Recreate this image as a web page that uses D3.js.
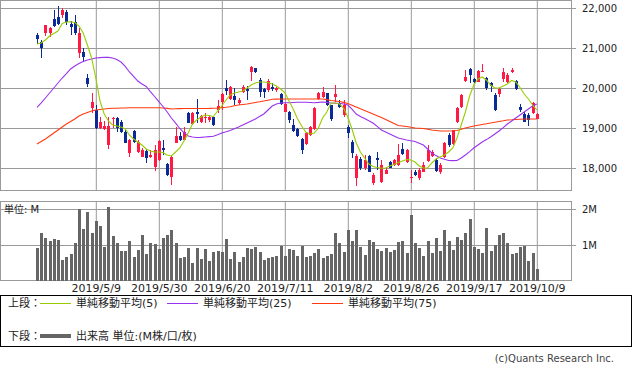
<!DOCTYPE html>
<html><head><meta charset="utf-8">
<script src="https://cdn.jsdelivr.net/npm/d3@7"></script>
<style>
body{margin:0;background:#fff;}
svg{display:block;font-family:"DejaVu Sans","Noto Sans CJK JP",sans-serif;}
</style></head><body><svg id="c" width="633" height="371"></svg>
<script>
const dates = [
"2019/4/11","2019/4/12","2019/4/15","2019/4/16","2019/4/17","2019/4/18","2019/4/19","2019/4/22","2019/4/23","2019/4/24","2019/4/25","2019/4/26",
"2019/5/7","2019/5/8","2019/5/9","2019/5/10","2019/5/13","2019/5/14","2019/5/15","2019/5/16","2019/5/17","2019/5/20","2019/5/21","2019/5/22","2019/5/23","2019/5/24","2019/5/27","2019/5/28","2019/5/29","2019/5/30","2019/5/31",
"2019/6/3","2019/6/4","2019/6/5","2019/6/6","2019/6/7","2019/6/10","2019/6/11","2019/6/12","2019/6/13","2019/6/14","2019/6/17","2019/6/18","2019/6/19","2019/6/20","2019/6/21","2019/6/24","2019/6/25","2019/6/26","2019/6/27","2019/6/28",
"2019/7/1","2019/7/2","2019/7/3","2019/7/4","2019/7/5","2019/7/8","2019/7/9","2019/7/10","2019/7/11","2019/7/12","2019/7/16","2019/7/17","2019/7/18","2019/7/19","2019/7/22","2019/7/23","2019/7/24","2019/7/25","2019/7/26","2019/7/29","2019/7/30","2019/7/31",
"2019/8/1","2019/8/2","2019/8/5","2019/8/6","2019/8/7","2019/8/8","2019/8/9","2019/8/13","2019/8/14","2019/8/15","2019/8/16","2019/8/19","2019/8/20","2019/8/21","2019/8/22","2019/8/23","2019/8/26","2019/8/27","2019/8/28","2019/8/29","2019/8/30",
"2019/9/2","2019/9/3","2019/9/4","2019/9/5","2019/9/6","2019/9/9","2019/9/10","2019/9/11","2019/9/12","2019/9/13","2019/9/17","2019/9/18","2019/9/19","2019/9/20","2019/9/24","2019/9/25","2019/9/26","2019/9/27","2019/9/30",
"2019/10/1","2019/10/2","2019/10/3","2019/10/4","2019/10/7","2019/10/8","2019/10/9"];

const open = [21325,21158,21383,21367,21725,21783,21825,21908,21592,21658,
20883,20908,20258,19492,19450,18992,18983,18575,19217,19258,
19158,18892,18383,18933,18408,18283,18433,18283,18033,18200,
18508,18100,17783,18617,18800,18700,19383,19100,19392,19158,
19242,19200,19267,19450,19658,20000,19725,19808,19617,19908,
19967,20408,20492,20200,19967,19950,20017,19950,19842,19408,
19408,19075,18967,18725,18592,18825,18975,19717,19783,19867,
19567,19775,19617,19325,19033,18658,17758,18225,17992,18308,
17617,18242,17658,17842,18158,18075,18075,18475,18158,17742,
17908,17742,17908,18175,18300,18200,17892,18283,18825,18592,
19158,19533,20175,20475,20217,20158,20408,20258,20117,19825,
19842,20225,20158,20408,20175,19533,19342,19325,19367,19225];
const high = [21375,21200,21575,21533,21950,22050,21992,21950,21683,21825,
21500,20992,20350,19883,19575,19283,19175,19267,19283,19283,
19200,18950,18725,18950,18700,18492,18467,18450,18575,18700,
18700,18117,18325,19033,18908,19033,19408,19408,19717,19325,
19367,19325,19283,19700,19867,20200,20050,19992,19742,20075,
20058,20550,20500,20242,19992,20217,20117,20033,19867,19617,
19425,19225,18992,18742,18908,19050,19533,19908,20033,19883,
19575,20075,19700,19700,19075,18700,18342,18283,18325,18325,
17867,18408,18200,18033,18175,18225,18592,18617,18475,17950,
17950,17992,18158,18575,18450,18242,18117,18642,18867,18950,
19533,19842,20450,20508,20242,20450,20592,20283,20142,19867,
20008,20492,20367,20508,20200,19592,19408,19367,19658,19367];
const low = [21100,20738,21300,21283,21533,21575,21742,21575,21325,21325,
20742,20642,20017,19383,18967,18967,18950,18475,18992,18908,
18875,18617,18267,18617,18383,18267,18133,18242,17933,18183,
18325,17800,17575,18617,18683,18700,19117,19075,19117,19133,
19133,19158,19050,19367,19450,19825,19700,19575,19575,19867,
19700,20175,20375,19783,19742,19908,19933,19908,19575,19392,
19117,18908,18783,18350,18575,18808,18950,19700,19758,19558,
19175,19658,19492,19283,18742,18258,17558,17950,17950,17892,
17575,17950,17617,17842,17992,18058,18058,18325,18117,17617,
17808,17700,17892,18158,18283,17908,17858,18258,18533,18575,
19117,19508,20158,20117,20117,20142,20392,19950,19908,19425,
19783,20158,20117,20367,19950,19408,19158,19058,19342,19217];
const close = [21218,21008,21575,21492,21550,21592,21950,21658,21533,21367,
21367,20767,20092,19658,18992,19158,19058,19042,19258,18992,
18892,18633,18700,18658,18658,18450,18258,18325,18450,18675,
18450,17825,18283,18800,18700,18908,19133,19383,19350,19300,
19283,19283,19075,19550,19850,19925,20033,19700,19700,20033,
19925,20533,20392,19892,19908,20175,19967,20008,19592,19592,
19200,18925,18808,18450,18883,19033,19492,19883,19908,19575,
19233,19850,19517,19575,18867,18367,18308,17992,18200,17908,
17825,18200,18075,17950,18008,18200,18325,18342,18450,17783,
17825,17950,18075,18450,18392,17925,18075,18617,18575,18950,
19508,19825,20283,20325,20142,20425,20425,19992,20058,19450,
19967,20408,20325,20450,19975,19450,19158,19200,19617,19342];

const ma5 = [21100,21125,21200,21300,21363,21425,21613,21650,21658,21638,
21550,21375,21075,20750,20250,19675,19350,19175,19075,19050,
19025,18975,18825,18725,18650,18575,18475,18425,18400,18400,
18388,18325,18300,18400,18500,18675,18875,19100,19200,19275,
19325,19313,19288,19425,19550,19700,19825,19875,19900,19925,
20000,20075,20125,20150,20150,20138,20100,20050,19975,19888,
19675,19475,19238,19050,18900,18850,18875,19000,19250,19400,
19625,19625,19600,19500,19275,18975,18625,18400,18250,18100,
18038,18013,17993,18000,18050,18088,18138,18175,18213,18200,
18150,18050,18000,18000,18125,18225,18275,18325,18400,18500,
18750,19075,19400,19800,20075,20225,20275,20200,20075,20000,
20000,20050,20100,20188,20150,20013,19850,19725,19575,19450];
const ma25 = [19517,19630,19750,19875,20000,20125,20250,20360,20475,20550,
20613,20660,20700,20725,20750,20760,20767,20765,20750,20710,
20650,20540,20400,20290,20175,20100,20038,19910,19788,19660,
19538,19400,19250,19120,18988,18880,18800,18775,18763,18765,
18775,18785,18792,18830,18875,18905,18938,18980,19025,19075,
19125,19175,19225,19290,19350,19450,19550,19600,19625,19630,
19633,19638,19642,19642,19642,19638,19633,19640,19650,19640,
19625,19620,19617,19600,19575,19470,19350,19290,19238,19180,
19125,19040,18950,18900,18850,18800,18750,18725,18700,18680,
18663,18620,18575,18475,18375,18310,18250,18220,18188,18185,
18188,18250,18325,18410,18500,18575,18650,18710,18775,18850,
18925,19010,19100,19175,19250,19325,19400,19475,19550,19600];
const ma75 = [18600,18663,18725,18800,18875,18950,19025,19100,19163,19225,
19300,19350,19388,19425,19450,19463,19475,19488,19492,19495,
19500,19500,19505,19505,19508,19508,19508,19508,19508,19505,
19500,19490,19475,19480,19485,19488,19488,19488,19488,19488,
19488,19490,19495,19500,19510,19520,19533,19555,19575,19588,
19600,19620,19638,19655,19675,19695,19717,19722,19725,19725,
19725,19725,19725,19725,19725,19725,19725,19725,19725,19710,
19688,19675,19663,19640,19613,19570,19525,19480,19438,19395,
19350,19305,19263,19213,19163,19113,19063,19050,19038,19020,
19000,18995,18988,18970,18950,18938,18925,18925,18925,18930,
18938,18970,19000,19025,19050,19070,19088,19105,19125,19145,
19163,19180,19200,19205,19213,19220,19225,19225,19225,19225];

const volume = [0.93,1.34,1.20,1.12,1.18,1.15,0.59,0.68,0.76,1.06,
2.00,1.45,1.93,1.34,1.67,1.54,0.95,2.06,1.26,1.06,
0.84,0.84,1.12,0.68,0.87,1.29,0.76,1.06,1.04,0.90,
1.20,1.29,1.43,1.06,0.65,0.68,0.93,0.51,0.93,0.62,
0.90,0.56,0.81,0.84,0.81,1.18,0.62,0.81,0.54,0.68,
0.93,0.90,0.95,0.81,0.59,0.65,0.68,0.69,0.98,0.70,
0.90,0.87,0.70,0.97,0.68,0.69,0.79,0.89,0.64,0.69,
0.75,1.34,1.06,0.81,1.42,1.12,1.42,0.95,0.72,1.14,
1.08,0.89,0.84,0.92,0.81,0.86,1.08,1.11,0.79,1.83,
1.06,0.92,0.69,1.11,0.79,1.19,0.83,1.42,1.11,0.86,
1.22,1.14,1.34,1.72,0.94,0.89,0.79,1.47,0.83,1.00,
1.29,1.33,1.06,0.75,0.78,0.94,0.97,0.56,0.78,0.33];

const priceTicks = [18000,19000,20000,21000,22000];
const volumeTicks = [1,2];
const dateTicks = ["2019/5/9","2019/5/30","2019/6/20","2019/7/11","2019/8/2","2019/8/26","2019/9/17","2019/10/9"];
const legendTop = [
  {label:"単純移動平均(5)", color:"#99cc00"},
  {label:"単純移動平均(25)", color:"#9933ee"},
  {label:"単純移動平均(75)", color:"#ff3a10"}];

const svg = d3.select("#c");
const GRID = "#9a9a9a";
const x = d3.scaleLinear().domain([0, dates.length-1]).range([37, 536.8]);
const y = d3.scaleLinear().domain([18000, 22000]).range([168, 8]);
const yv = d3.scaleLinear().domain([0, 2]).range([281, 209]);
const tickIdx = dateTicks.map(d => dates.indexOf(d));

// price axis (right) with gridlines
const pa = svg.append("g").attr("transform","translate(576,0)")
  .call(d3.axisRight(y).tickValues(priceTicks).tickSize(-576).tickPadding(6).tickFormat(d3.format(",")));
pa.select(".domain").remove();
pa.selectAll("line").attr("stroke", GRID);
pa.selectAll("text").attr("font-size", 10).attr("fill","#222").attr("font-family","DejaVu Sans");

// volume axis (right)
const va = svg.append("g").attr("transform","translate(576,0)")
  .call(d3.axisRight(yv).tickValues(volumeTicks).tickSize(-576).tickPadding(6).tickFormat(d => d + "M"));
va.select(".domain").remove();
va.selectAll("line").attr("stroke", GRID);
va.selectAll("text").attr("font-size", 10).attr("fill","#222").attr("font-family","DejaVu Sans");

// vertical grid in price panel
const xg = svg.append("g").attr("transform","translate(0,190)")
  .call(d3.axisBottom(x).tickValues(tickIdx).tickSize(-190).tickFormat(""));
xg.select(".domain").remove();
xg.selectAll("line").attr("stroke", GRID);

// date axis under volume panel with vertical grid
const xa = svg.append("g").attr("transform","translate(0,280)")
  .call(d3.axisBottom(x).tickValues(tickIdx).tickSize(-79).tickPadding(4).tickFormat(i => dates[i]));
xa.select(".domain").remove();
xa.selectAll("line").attr("stroke", GRID);
xa.selectAll("text").attr("font-size", 11).attr("fill","#222").attr("font-family","DejaVu Sans");

// frames
svg.append("rect").attr("x",0.5).attr("y",0.5).attr("width",571).attr("height",190)
  .attr("fill","none").attr("stroke",GRID);
svg.append("rect").attr("x",0.5).attr("y",201.5).attr("width",571).attr("height",79)
  .attr("fill","none").attr("stroke",GRID);

// volume bars
svg.append("g").selectAll("rect").data(volume).join("rect")
  .attr("x",(d,i)=>Math.round(x(i))-1).attr("width",3)
  .attr("y",d=>yv(d)).attr("height",d=>280.5-yv(d))
  .attr("fill","#666666").attr("shape-rendering","crispEdges");

svg.append("text").attr("x",4).attr("y",213).attr("font-size",10).attr("fill","#222")
  .text("単位: M");

// candles
const UP="#ff1a44", DN="#0a2a98";
const cg = svg.append("g").attr("shape-rendering","crispEdges");
dates.forEach((d,i)=>{
  const c = close[i] >= open[i] ? UP : DN;
  const cx = Math.round(x(i));
  cg.append("line").attr("x1",cx+0.5).attr("x2",cx+0.5)
    .attr("y1",y(high[i])).attr("y2",y(low[i])).attr("stroke",c).attr("stroke-width",1);
  const top = y(Math.max(open[i],close[i])), bot = y(Math.min(open[i],close[i]));
  cg.append("rect").attr("x",cx-1).attr("width",3)
    .attr("y",top).attr("height",Math.max(1,bot-top)).attr("fill",c);
});

// moving averages
const line = d3.line().x((d,i)=>x(i)).y(d=>y(d));
[[ma75,legendTop[2].color],[ma25,legendTop[1].color],[ma5,legendTop[0].color]].forEach(([s,c])=>{
  svg.append("path").datum(s).attr("d",line).attr("fill","none")
    .attr("stroke",c).attr("stroke-width",1.1);
});

// legend
svg.append("rect").attr("x",0.5).attr("y",295.5).attr("width",631).attr("height",51)
  .attr("fill","none").attr("stroke","#000");
const lg = svg.append("g").attr("font-size",11).attr("fill","#222");
lg.append("text").attr("x",8).attr("y",307).text("上段：");
const lx = [40,167,312];
legendTop.forEach((l,k)=>{
  lg.append("line").attr("x1",lx[k]).attr("x2",lx[k]+31).attr("y1",303.5).attr("y2",303.5)
    .attr("stroke",l.color).attr("stroke-width",1);
  lg.append("text").attr("x",lx[k]+36).attr("y",307).text(l.label);
});
lg.append("text").attr("x",8).attr("y",340).text("下段：");
lg.append("line").attr("x1",40).attr("x2",71).attr("y1",336).attr("y2",336)
  .attr("stroke","#666").attr("stroke-width",4);
lg.append("text").attr("x",76).attr("y",340).text("出来高 単位:(M株/口/枚)");

svg.append("text").attr("x",614).attr("y",362).attr("text-anchor","end")
  .attr("font-size",10).attr("fill","#444").text("(c)Quants Research Inc.");
</script></body></html>
